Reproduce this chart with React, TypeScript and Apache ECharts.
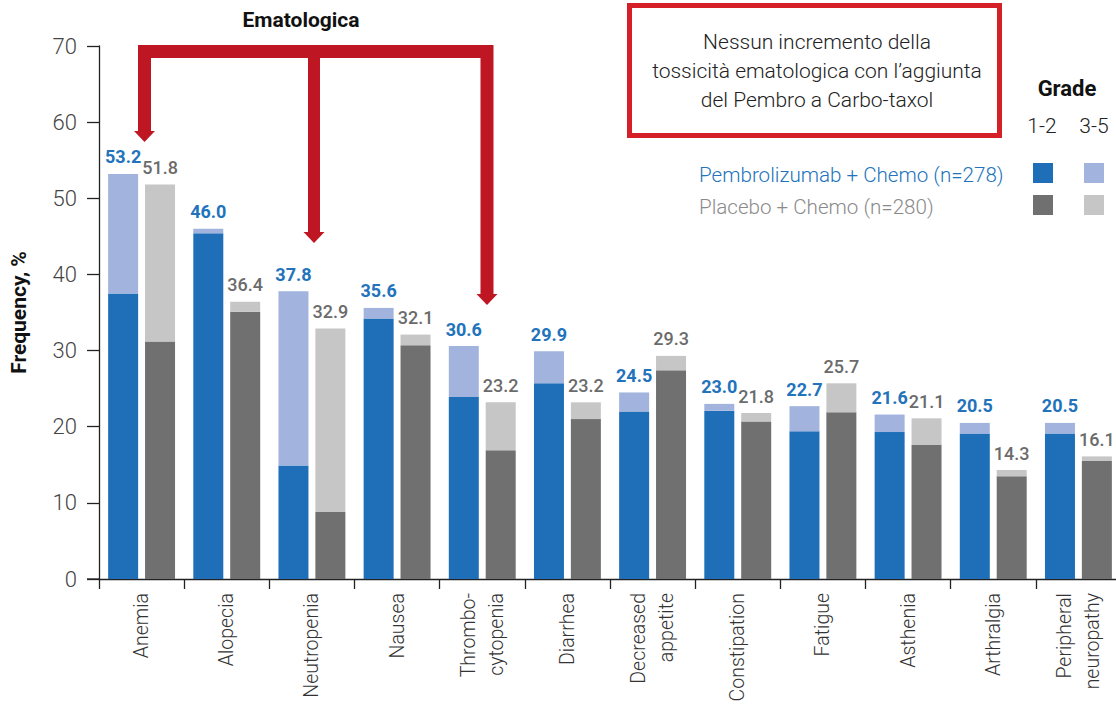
import React, { useEffect, useRef } from "react";
import * as echarts from "echarts";

// Adverse events, any cause, frequency in %
const categories = [
  "Anemia",
  "Alopecia",
  "Neutropenia",
  "Nausea",
  "Thrombo-\ncytopenia",
  "Diarrhea",
  "Decreased\nappetite",
  "Constipation",
  "Fatigue",
  "Asthenia",
  "Arthralgia",
  "Peripheral\nneuropathy",
];

// Pembrolizumab + Chemo: total (all grades) and grade 1-2
const pembroTotal = [53.2, 46.0, 37.8, 35.6, 30.6, 29.9, 24.5, 23.0, 22.7, 21.6, 20.5, 20.5];
const pembroGrade12 = [37.5, 45.4, 14.9, 34.2, 23.9, 25.7, 22.0, 22.1, 19.4, 19.3, 19.1, 19.1];

// Placebo + Chemo: total (all grades) and grade 1-2
const placeboTotal = [51.8, 36.4, 32.9, 32.1, 23.2, 23.2, 29.3, 21.8, 25.7, 21.1, 14.3, 16.1];
const placeboGrade12 = [31.2, 35.1, 8.8, 30.7, 16.9, 21.0, 27.4, 20.7, 21.9, 17.6, 13.5, 15.5];

const yTicks = { min: 0, max: 70, interval: 10 };

const round1 = (v: number) => Math.round(v * 10) / 10;
const pembroGrade35 = pembroTotal.map((t, i) => round1(t - pembroGrade12[i]));
const placeboGrade35 = placeboTotal.map((t, i) => round1(t - placeboGrade12[i]));

const C = {
  pembroDark: "#1f6fb8",
  pembroLight: "#a2b4de",
  placeboDark: "#707070",
  placeboLight: "#c6c6c6",
  pembroText: "#2273bb",
  placeboText: "#6b6b6b",
  red: "#be1622",
  boxRed: "#d52028",
  axis: "#222",
};

const FONT = "Roboto, 'Noto Sans', sans-serif";

export default function App() {
  const ref = useRef<HTMLDivElement>(null);

  useEffect(() => {
    if (!ref.current) return;
    const chart = echarts.init(ref.current, undefined, { renderer: "svg" });

    const barBase = {
      type: "bar" as const,
      barWidth: 30,
      barGap: "23%",
      emphasis: { disabled: true },
    };

    const valueLabel = (totals: number[], color: string, weight: any) => ({
      show: true,
      position: "top" as const,
      distance: 8,
      formatter: (p: any) => totals[p.dataIndex].toFixed(1),
      fontFamily: FONT,
      fontWeight: weight,
      fontSize: 18,
      color,
    });

    chart.setOption({
      animation: false,
      backgroundColor: "#fff",
      grid: {
        left: 99,
        top: 46,
        width: 1022,
        bottom: 126,
        containLabel: false,
        outerBoundsMode: "none",
      },
      xAxis: {
        type: "category",
        data: categories,
        axisLine: { show: true, lineStyle: { color: C.axis, width: 1.3 } },
        axisTick: { show: true, length: 10, lineStyle: { color: C.axis, width: 1.3 } },
        axisLabel: {
          rotate: 90,
          margin: 14,
          fontFamily: FONT,
          fontWeight: 300,
          fontSize: 19.5,
          lineHeight: 28,
          color: "#333",
          interval: 0,
        },
      },
      yAxis: {
        type: "value",
        min: yTicks.min,
        max: yTicks.max,
        interval: yTicks.interval,
        name: "Frequency, %",
        nameLocation: "middle",
        nameRotate: 90,
        nameGap: 70,
        nameTextStyle: { fontFamily: FONT, fontWeight: "bold", fontSize: 21, color: "#111" },
        axisLine: { show: true, lineStyle: { color: C.axis, width: 1.3 } },
        axisTick: { show: true, inside: false, length: 12, lineStyle: { color: C.axis, width: 1.3 } },
        axisLabel: { margin: 22, fontFamily: FONT, fontWeight: 300, fontSize: 22, color: "#444" },
        splitLine: { show: false },
      },
      series: [
        {
          ...barBase,
          name: "Pembrolizumab + Chemo 1-2",
          stack: "pembro",
          data: pembroGrade12,
          itemStyle: { color: C.pembroDark },
        },
        {
          ...barBase,
          name: "Pembrolizumab + Chemo 3-5",
          stack: "pembro",
          data: pembroGrade35,
          itemStyle: { color: C.pembroLight },
          label: valueLabel(pembroTotal, C.pembroText, "bold"),
        },
        {
          ...barBase,
          name: "Placebo + Chemo 1-2",
          stack: "placebo",
          data: placeboGrade12,
          itemStyle: { color: C.placeboDark },
        },
        {
          ...barBase,
          name: "Placebo + Chemo 3-5",
          stack: "placebo",
          data: placeboGrade35,
          itemStyle: { color: C.placeboLight },
          label: valueLabel(placeboTotal, C.placeboText, 500),
        },
      ],
      graphic: [
        // x axis line stub left of the y axis
        { type: "line", shape: { x1: 87, y1: 579, x2: 99, y2: 579 }, style: { stroke: C.axis, lineWidth: 1.3 } },
        // "Ematologica" bracket with arrows
        {
          type: "text",
          style: {
            text: "Ematologica",
            x: 301,
            y: 20,
            align: "center",
            verticalAlign: "middle",
            fontFamily: FONT,
            fontWeight: "bold",
            fontSize: 21,
            fill: "#111",
          },
        },
        {
          type: "polyline",
          shape: { points: [[144.5, 132], [144.5, 51.5], [487, 51.5], [487, 295]] },
          style: { stroke: C.red, lineWidth: 13, fill: null, lineJoin: "miter", lineCap: "butt" },
        },
        {
          type: "line",
          shape: { x1: 314, y1: 51.5, x2: 314, y2: 233 },
          style: { stroke: C.red, lineWidth: 12, lineCap: "butt" },
        },
        { type: "polygon", shape: { points: [[134, 131], [155, 131], [144.5, 142]] }, style: { fill: C.red } },
        { type: "polygon", shape: { points: [[303.5, 232], [324.5, 232], [314, 243]] }, style: { fill: C.red } },
        { type: "polygon", shape: { points: [[476.5, 294], [497.5, 294], [487, 305]] }, style: { fill: C.red } },
        // callout box
        {
          type: "rect",
          shape: { x: 629.5, y: 5.5, width: 370, height: 130 },
          style: { fill: "#fff", stroke: C.boxRed, lineWidth: 5 },
        },
        {
          type: "text",
          style: {
            text: "Nessun incremento della\ntossicità ematologica con l’aggiunta\ndel Pembro a Carbo-taxol",
            x: 817,
            y: 71,
            align: "center",
            verticalAlign: "middle",
            lineHeight: 29,
            fontFamily: FONT,
            fontWeight: 300,
            fontSize: 21,
            fill: "#222",
          },
        },
        // legend
        {
          type: "text",
          style: { text: "Grade", x: 1067, y: 88, align: "center", verticalAlign: "middle", fontFamily: FONT, fontWeight: "bold", fontSize: 22, fill: "#111" },
        },
        {
          type: "text",
          style: { text: "1-2", x: 1042, y: 126, align: "center", verticalAlign: "middle", fontFamily: FONT, fontWeight: 300, fontSize: 21, fill: "#222" },
        },
        {
          type: "text",
          style: { text: "3-5", x: 1094, y: 126, align: "center", verticalAlign: "middle", fontFamily: FONT, fontWeight: 300, fontSize: 21, fill: "#222" },
        },
        {
          type: "text",
          style: { text: "Pembrolizumab + Chemo (n=278)", x: 699, y: 175, align: "left", verticalAlign: "middle", fontFamily: FONT, fontWeight: 300, fontSize: 20.6, fill: C.pembroText },
        },
        {
          type: "text",
          style: { text: "Placebo + Chemo (n=280)", x: 699, y: 207, align: "left", verticalAlign: "middle", fontFamily: FONT, fontWeight: 300, fontSize: 20.6, fill: "#8a8a8a" },
        },
        { type: "rect", shape: { x: 1033, y: 163, width: 20, height: 20 }, style: { fill: C.pembroDark } },
        { type: "rect", shape: { x: 1084, y: 163, width: 20, height: 20 }, style: { fill: C.pembroLight } },
        { type: "rect", shape: { x: 1033, y: 195, width: 20, height: 20 }, style: { fill: C.placeboDark } },
        { type: "rect", shape: { x: 1084, y: 195, width: 20, height: 20 }, style: { fill: C.placeboLight } },
      ],
    });

    return () => chart.dispose();
  }, []);

  return (
    <div
      ref={ref}
      style={{ position: "fixed", left: 0, top: 0, width: 1116, height: 705, background: "#fff" }}
    />
  );
}
